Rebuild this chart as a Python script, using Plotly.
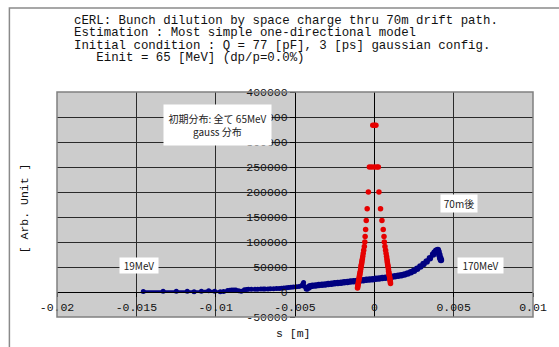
import plotly.graph_objects as go

# ---- data ----
blue_s = [-0.01456, -0.01331, -0.01248, -0.01179, -0.01136, -0.01090, -0.01044, -0.01006,
          -0.00971, -0.00950, -0.00925, -0.00910, -0.00898, -0.00885, -0.00873, -0.00855,
          -0.00839, -0.00819, -0.00805, -0.00794, -0.00775, -0.00752, -0.00735, -0.00715,
          -0.00700, -0.00689, -0.00670, -0.00655, -0.00635, -0.00617, -0.00600, -0.00585,
          -0.00570, -0.00554, -0.00540, -0.00525, -0.00510, -0.00492, -0.00475, -0.00460,
          -0.00450, -0.00446, -0.00440, -0.00430, -0.00423, -0.00415, -0.00405,
          -0.0039, -0.0037, -0.0035, -0.0033, -0.0031, -0.0029, -0.0027, -0.0025, -0.0023,
          -0.0021, -0.0019, -0.0017, -0.0015, -0.0013, -0.0011, -0.0009, -0.0007, -0.0005,
          -0.0003, -0.0001, 0.0001, 0.0003, 0.0005, 0.0007, 0.0009, 0.0011, 0.0013, 0.0015,
          0.0017, 0.0019, 0.0021, 0.0023, 0.0025, 0.0027, 0.0029, 0.0031, 0.0033, 0.0035,
          0.0037, 0.0038, 0.0039, 0.00400, 0.00405, 0.00410, 0.00415, 0.00420]
blue_v = [1000, 1300, 1300, 1300, 600, 1300, 2500, 1300,
          600, 1200, 3000, 3500, 4000, 4000, 4000, 2500,
          1500, 4700, 5200, 5300, 5500, 5300, 5600, 5800,
          6000, 6000, 6200, 6400, 6600, 6800, 7200, 7600,
          8200, 8700, 9000, 9400, 9800, 10300, 11000, 12500,
          16000, 19000, 11000, 6000, 5500, 9000, 11500,
          12300, 13000, 13800, 14500, 15200, 15900, 16600, 17300, 18000,
          18700, 19400, 20100, 20800, 21500, 22200, 22900, 23600, 24300,
          25000, 25700, 26400, 27100, 27800, 28600, 29400, 30300, 31300, 32400,
          33700, 35200, 37000, 39400, 42600, 46500, 51000, 56000, 61000, 67500,
          75000, 79000, 82500, 84000, 80000, 74000, 68000, 64000]

red_s = [-0.0001, 0.0, 0.0001,
         -0.00031, -0.00016, 0.0, 0.00016, 0.00025,
         -0.000375, 0.00029,
         -0.00045, 0.00039,
         -0.00051, 0.00048,
         -0.00055, 0.00056,
         -0.00058, 0.00061,
         -0.00060, 0.00063,
         -0.00063, 0.00067,
         -0.00067, -0.00070, -0.00073, -0.00075, -0.00078, -0.00079, -0.00081, -0.00083,
         -0.00084, -0.00086, -0.00088, -0.00090, -0.00092, -0.00093, -0.00094, -0.00096,
         -0.00097, -0.00099, -0.00100, -0.00101, -0.00103, -0.00104, -0.00105, -0.00106,
         0.00071, 0.00074, 0.00077, 0.00079, 0.00081, 0.00082, 0.00084, 0.00085,
         0.00087, 0.00089, 0.00090, 0.00092, 0.00093, 0.00094, 0.00096, 0.00097,
         0.00098, 0.00100, 0.00101, 0.00102]
red_v = [333333, 333333, 333333,
         250000, 250000, 250000, 250000, 250000,
         200000, 200000,
         166667, 166667,
         142857, 142857,
         125000, 125000,
         111111, 111111,
         100000, 100000,
         90909, 90909,
         83333, 76923, 71429, 66667, 62500, 58824, 55556, 52632,
         50000, 45455, 41667, 38462, 35714, 33333, 30303, 27778,
         25000, 22222, 20000, 17241, 14706, 12500, 10000, 8000,
         83333, 76923, 71429, 66667, 62500, 58824, 55556, 52632,
         50000, 45455, 41667, 38462, 35714, 33333, 30303, 27778,
         25000, 22222, 20000, 17241]

x_ticks = [-0.02, -0.015, -0.01, -0.005, 0, 0.005, 0.01]
x_ticktext = ["-0.02", "-0.015", "-0.01", "-0.005", "0", "0.005", "0.01"]
y_ticks = [-50000, 0, 50000, 100000, 150000, 200000, 250000, 300000, 350000, 400000]
y_ticktext = ["-50000", "0", "50000", "100000", "150000", "200000", "250000",
              "300000", "350000", "400000"]

title_lines = [
    "cERL: Bunch dilution by space charge thru 70m drift path.",
    "Estimation : Most simple one-directional model",
    "Initial condition : Q = 77 [pF], 3 [ps] gaussian config.",
    "   Einit = 65 [MeV] (dp/p=0.0%)",
]

MONO = "Liberation Mono, Courier New, monospace"
JP = "Noto Sans CJK JP, sans-serif"

# denser part of the blue trace is drawn with slightly bigger markers (style only)
blue_sizes = [6.5 if s > -0.0042 else 5 for s in blue_s]

fig = go.Figure()
fig.add_trace(go.Scatter(x=blue_s, y=blue_v, mode="lines+markers",
                         line=dict(color="#000080", width=2.5),
                         marker=dict(color="#000080", size=blue_sizes, opacity=1,
                                     line=dict(width=0)),
                         showlegend=False))
fig.add_trace(go.Scatter(x=red_s, y=red_v, mode="markers",
                         marker=dict(color="#E60000", size=5.5, opacity=1, line=dict(width=0)),
                         showlegend=False))

fig.update_layout(
    width=559, height=347,
    margin=dict(l=57, r=22, t=92, b=30),
    paper_bgcolor="white", plot_bgcolor="#CCCCCC",
    showlegend=False,
    xaxis=dict(range=[-0.02, 0.01], domain=[0, 1], anchor="free", position=50000 / 450000,
               tickvals=x_ticks, ticktext=x_ticktext,
               tickfont=dict(family=MONO, size=11.5, color="#111"),
               showgrid=True, gridcolor="#2a2a2a", gridwidth=1,
               zeroline=True, zerolinecolor="#000", zerolinewidth=1,
               showline=True, linecolor="#000", linewidth=1,
               ticks="outside", ticklen=4, tickcolor="#000"),
    yaxis=dict(range=[-50000, 400000], domain=[0, 1], anchor="free", position=0.5,
               tickvals=y_ticks, ticktext=y_ticktext,
               tickfont=dict(family=MONO, size=11.5, color="#111"),
               showgrid=True, gridcolor="#2a2a2a", gridwidth=1,
               zeroline=False,
               showline=True, linecolor="#000", linewidth=1,
               ticks="outside", ticklen=5, tickcolor="#000"),
)

# plot area border and outer frame
fig.add_shape(type="rect", xref="paper", yref="paper", x0=0, x1=1, y0=0, y1=1,
              line=dict(color="#808080", width=1.5), layer="above")
fig.add_shape(type="rect", xref="paper", yref="paper", x0=(9 - 57) / 480, x1=1.2,
              y0=-0.5, y1=(317 - 8) / 225, line=dict(color="#8a8a8a", width=1.5))

# title lines
for txt, py in zip(title_lines, [21, 33.3, 45.6, 58]):
    fig.add_annotation(text=txt.replace(" ", "\u00a0"), xref="paper", yref="paper",
                       x=(72 - 57) / 480, y=(317 - py) / 225, xanchor="left", yanchor="middle",
                       showarrow=False, font=dict(family=MONO, size=12.4, color="#111"))

# axis titles
fig.add_annotation(text="[ Arb. Unit ]", xref="paper", yref="paper",
                   x=(24 - 57) / 480, y=(317 - 208) / 225, textangle=-90,
                   xanchor="center", yanchor="middle",
                   showarrow=False, font=dict(family=MONO, size=11.5, color="#111"))
fig.add_annotation(text="s [m]", xref="paper", yref="paper",
                   x=(295 - 57) / 480, y=(317 - 333) / 225,
                   xanchor="center", yanchor="middle",
                   showarrow=False, font=dict(family=MONO, size=11.5, color="#111"))

# text boxes (text, x, y, box width, box height)
boxes = [
    ("初期分布: 全て 65MeV<br>gauss 分布", -0.0099, 334000, 107, 40),
    ("70m後", 0.00531, 177000, 36, 17),
    ("19MeV", -0.01483, 53400, 38, 15),
    ("170MeV", 0.00666, 53000, 45, 15),
]
for txt, bx, by, bw, bh in boxes:
    fig.add_annotation(text=txt, x=bx, y=by, xref="x", yref="y", showarrow=False,
                       xanchor="center", yanchor="middle",
                       width=bw, height=bh, bgcolor="white", borderpad=0,
                       font=dict(family=JP, size=10, color="#222"))

fig.write_html("out.html")
